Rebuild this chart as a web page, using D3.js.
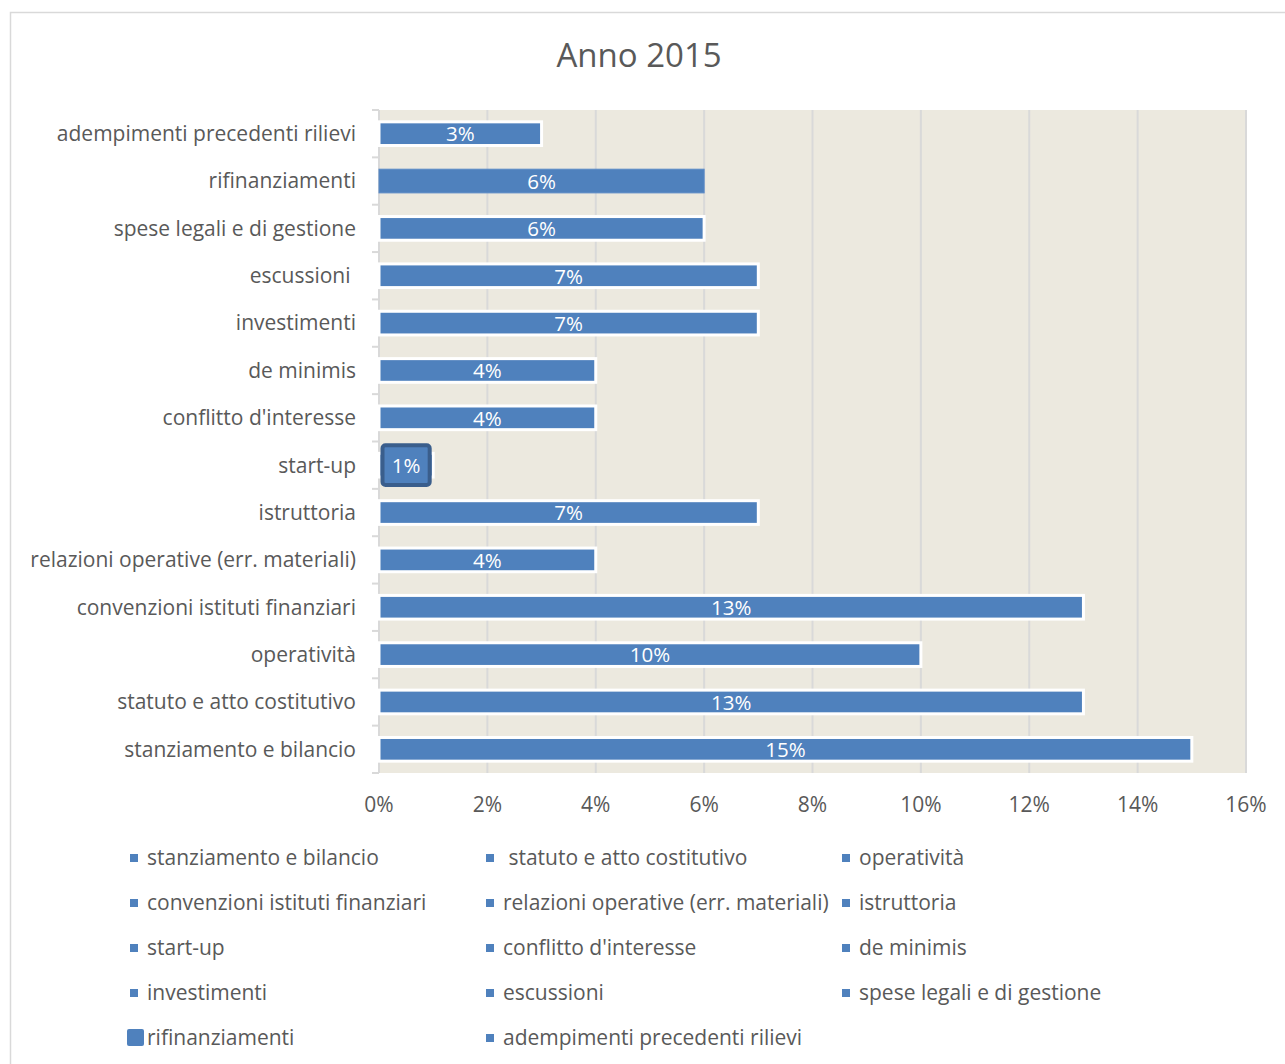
<!DOCTYPE html>
<html>
<head>
<meta charset="utf-8">
<script src="https://cdn.jsdelivr.net/npm/d3@7"></script>
<style>
  body { margin: 0; background: #fff; }
  svg text { font-family: "Open Sans", sans-serif; }
</style>
</head>
<body>
<div id="chart"></div>
<script>
  // categories top to bottom as shown on the axis
  const categories = [
    'adempimenti precedenti rilievi',
    'rifinanziamenti',
    'spese legali e di gestione',
    'escussioni ',
    'investimenti',
    'de minimis',
    "conflitto d'interesse",
    'start-up',
    'istruttoria',
    'relazioni operative (err. materiali)',
    'convenzioni istituti finanziari',
    'operatività',
    'statuto e atto costitutivo',
    'stanziamento e bilancio'
  ];
  const values = [3, 6, 6, 7, 7, 4, 4, 1, 7, 4, 13, 10, 13, 15];
  const xTicks = [0, 2, 4, 6, 8, 10, 12, 14, 16];
  const legendLabels = [
    'stanziamento e bilancio', ' statuto e atto costitutivo', 'operatività',
    'convenzioni istituti finanziari', 'relazioni operative (err. materiali)', 'istruttoria',
    'start-up', "conflitto d'interesse", 'de minimis',
    'investimenti', 'escussioni', 'spese legali e di gestione',
    'rifinanziamenti', 'adempimenti precedenti rilievi'
  ];

  const W = 1285, H = 1064;
  const plot = { left: 379, right: 1246, top: 110, bottom: 773 };
  const BLUE = '#4F81BD', TEXT = '#595959', GRID = '#D9D9D9';

  const svg = d3.select('#chart').append('svg')
    .attr('width', W).attr('height', H);

  // chart frame
  svg.append('rect')
    .attr('x', 10.5).attr('y', 12.5)
    .attr('width', 1300).attr('height', 1080)
    .attr('fill', '#fff').attr('stroke', GRID).attr('stroke-width', 1.5);

  svg.append('text')
    .text('Anno 2015')
    .attr('x', 639).attr('y', 67)
    .attr('text-anchor', 'middle')
    .attr('fill', TEXT).style('font-size', '33px');

  const x = d3.scaleLinear().domain([0, 16]).range([plot.left, plot.right]);
  const y = d3.scaleBand().domain(categories).range([plot.top, plot.bottom]).paddingInner(0.5).paddingOuter(0.25);

  svg.append('rect')
    .attr('x', plot.left).attr('y', plot.top)
    .attr('width', plot.right - plot.left).attr('height', plot.bottom - plot.top)
    .attr('fill', '#ECE9DF');

  // vertical grid
  svg.append('g').selectAll('line')
    .data(xTicks.slice(1)).enter().append('line')
    .attr('x1', d => x(d)).attr('x2', d => x(d))
    .attr('y1', plot.top).attr('y2', plot.bottom)
    .attr('stroke', GRID).attr('stroke-width', 2);

  // y axis line + ticks between categories
  const yAxis = svg.append('g');
  yAxis.append('line')
    .attr('x1', plot.left).attr('x2', plot.left)
    .attr('y1', plot.top).attr('y2', plot.bottom)
    .attr('stroke', GRID).attr('stroke-width', 2);
  yAxis.selectAll('.tick')
    .data(d3.range(categories.length + 1)).enter().append('line')
    .attr('x1', plot.left - 7).attr('x2', plot.left)
    .attr('y1', i => plot.top + i * (plot.bottom - plot.top) / categories.length)
    .attr('y2', i => plot.top + i * (plot.bottom - plot.top) / categories.length)
    .attr('stroke', GRID).attr('stroke-width', 2);

  yAxis.selectAll('.lab')
    .data(categories).enter().append('text')
    .text(d => d)
    .attr('x', 356)
    .attr('y', d => y(d) + y.bandwidth() / 2)
    .attr('dy', '0.35em')
    .attr('text-anchor', 'end')
    .style('white-space', 'pre')
    .attr('fill', TEXT).style('font-size', '21px');

  // x tick labels
  svg.append('g').selectAll('text')
    .data(xTicks).enter().append('text')
    .text(d => d + '%')
    .attr('x', d => x(d)).attr('y', 812)
    .attr('text-anchor', 'middle')
    .attr('fill', TEXT).style('font-size', '21px');

  // bars
  const sel = 'start-up';
  const bars = svg.append('g').selectAll('g')
    .data(categories).enter().append('g');

  bars.append('rect')
    .attr('x', x(0))
    .attr('y', d => y(d))
    .attr('width', (d, i) => x(values[i]) - x(0))
    .attr('height', y.bandwidth())
    .attr('fill', BLUE)
    .attr('stroke', d => d === 'rifinanziamenti' ? '#5A8AC6' : '#fff')
    .attr('stroke-width', d => d === 'rifinanziamenti' ? 1 : 3);

  // selected data point outline (start-up)
  bars.filter(d => d === sel).append('rect')
    .attr('x', x(0) + 3.5).attr('y', y(sel) - 8)
    .attr('width', x(1) - x(0) - 7).attr('height', y.bandwidth() + 16)
    .attr('rx', 3)
    .attr('fill', BLUE)
    .attr('stroke', '#3A5E8C').attr('stroke-width', 4);

  bars.append('text')
    .text((d, i) => values[i] + '%')
    .attr('x', (d, i) => x(0) + (x(values[i]) - x(0)) / 2)
    .attr('y', d => y(d) + y.bandwidth() / 2)
    .attr('dy', '0.38em')
    .attr('text-anchor', 'middle')
    .attr('fill', '#fff').style('font-size', '20.5px');

  // legend
  const colX = [130, 486, 842];
  const rowY0 = 858, rowStep = 45;
  const legend = svg.append('g').selectAll('g')
    .data(legendLabels).enter().append('g')
    .attr('transform', (d, i) => `translate(${colX[i % 3]}, ${rowY0 + Math.floor(i / 3) * rowStep})`);

  legend.append('rect')
    .attr('x', d => d === 'rifinanziamenti' ? -3 : 0)
    .attr('y', d => d === 'rifinanziamenti' ? -9 : -4)
    .attr('width', d => d === 'rifinanziamenti' ? 17 : 8)
    .attr('height', d => d === 'rifinanziamenti' ? 17 : 8)
    .attr('rx', d => d === 'rifinanziamenti' ? 2 : 0)
    .attr('fill', BLUE);

  legend.append('text')
    .text(d => d)
    .attr('x', 17).attr('dy', '0.35em')
    .style('white-space', 'pre')
    .attr('fill', TEXT).style('font-size', '21px');
</script>
</body>
</html>
